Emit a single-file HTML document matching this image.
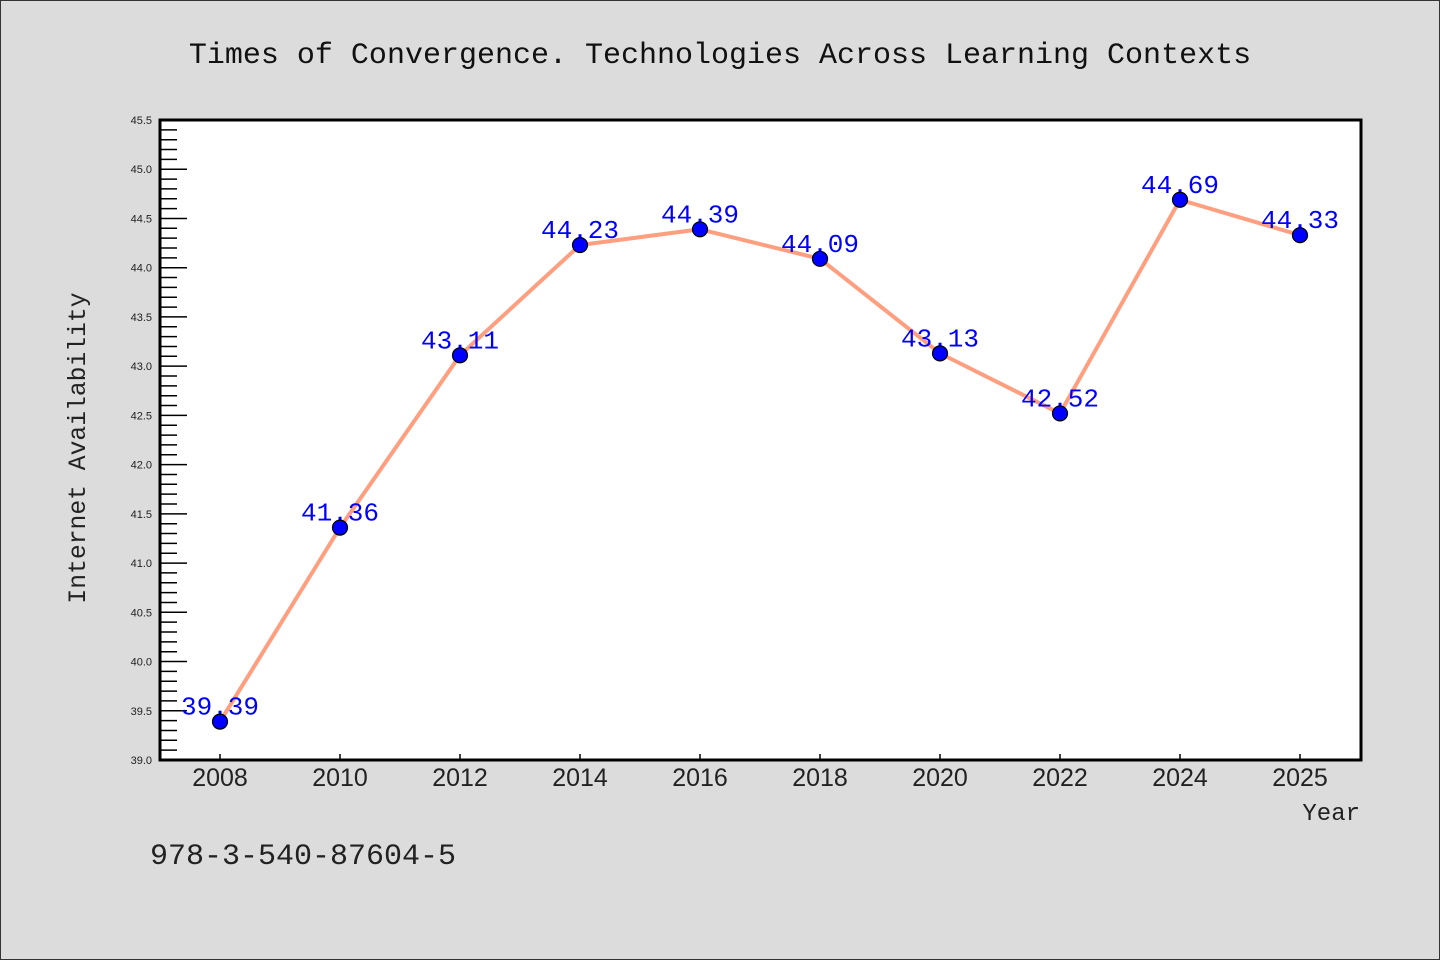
<!DOCTYPE html>
<html><head><meta charset="utf-8"><style>
body{margin:0;background:#dcdcdc;}
svg{display:block;}
</style></head><body>
<svg width="1440" height="960" xmlns="http://www.w3.org/2000/svg">
<rect x="0.5" y="0.5" width="1439" height="959" fill="#dcdcdc" stroke="#333"/>
<text x="720" y="63" text-anchor="middle" font-family="Liberation Mono, monospace" font-size="30" fill="#111">Times of Convergence. Technologies Across Learning Contexts</text>
<rect x="160" y="120" width="1201" height="640" fill="#fff"/>
<g id="yt"></g><g id="xt"></g><g id="series"></g>
<rect x="160" y="120" width="1201" height="640" fill="none" stroke="#000" stroke-width="3"/>
<text transform="translate(85,448) rotate(-90)" text-anchor="middle" font-family="Liberation Mono, monospace" font-size="24.7" fill="#222">Internet Availability</text>
<text x="1360" y="820" text-anchor="end" font-family="Liberation Mono, monospace" font-size="24" fill="#222">Year</text>
<text x="150" y="864" font-family="Liberation Mono, monospace" font-size="30" fill="#222">978-3-540-87604-5</text>
</svg>
<script>
const categories=["2008","2010","2012","2014","2016","2018","2020","2022","2024","2025"];
const values=[39.39,41.36,43.11,44.23,44.39,44.09,43.13,42.52,44.69,44.33];
const yTicks=["39.0","39.5","40.0","40.5","41.0","41.5","42.0","42.5","43.0","43.5","44.0","44.5","45.0","45.5"];
const NS="http://www.w3.org/2000/svg";
const yMin=39,yMax=45.5,plotTop=120,plotBot=760;
const yS=v=>plotBot-(v-yMin)/(yMax-yMin)*(plotBot-plotTop);
const xS=i=>220+i*120;
function mk(t,a,p){const e=document.createElementNS(NS,t);for(const k in a)e.setAttribute(k,a[k]);p.appendChild(e);return e;}
const ytG=document.getElementById('yt'),xtG=document.getElementById('xt'),sG=document.getElementById('series');
for(let k=0;k<=Math.round((yMax-yMin)*10);k++){
 const v=yMin+k*0.1;
 const major=k%5===0;
 const l=mk('line',{x1:160,x2:160+(major?27:17),y1:yS(v),y2:yS(v),stroke:'#000','stroke-width':1.5},ytG);
 
 
}
yTicks.forEach(t=>{
 const e=mk('text',{x:152,y:yS(parseFloat(t))+4,'text-anchor':'end','font-family':'Liberation Sans, sans-serif','font-size':11,fill:'#222'},ytG);
 e.textContent=t;
 
 
});
categories.forEach((c,i)=>{
 const l=mk('line',{x1:xS(i),x2:xS(i),y1:plotBot,y2:plotBot-6,stroke:'#000','stroke-width':1.5},xtG);
 
 
 const e=mk('text',{x:xS(i),y:786,'text-anchor':'middle','font-family':'Liberation Sans, sans-serif','font-size':25,fill:'#222'},xtG);
 e.textContent=c;
 
 
});
const line=mk('polyline',{points:values.map((v,i)=>xS(i)+','+yS(v)).join(' '),fill:'none',stroke:'#ff9f7f','stroke-width':4,'stroke-linejoin':'round'},sG);


values.forEach((v,i)=>{
 const t=mk('text',{x:xS(i),y:yS(v)-7,'text-anchor':'middle','font-family':'Liberation Mono, monospace','font-size':26,fill:'#0000ff'},sG);
 t.textContent=v.toFixed(2);
 
 
 const c=mk('circle',{cx:xS(i),cy:yS(v),r:7.5,fill:'#0000ff',stroke:'#000','stroke-width':1.2},sG);
 
 
});
</script>
</body></html>
